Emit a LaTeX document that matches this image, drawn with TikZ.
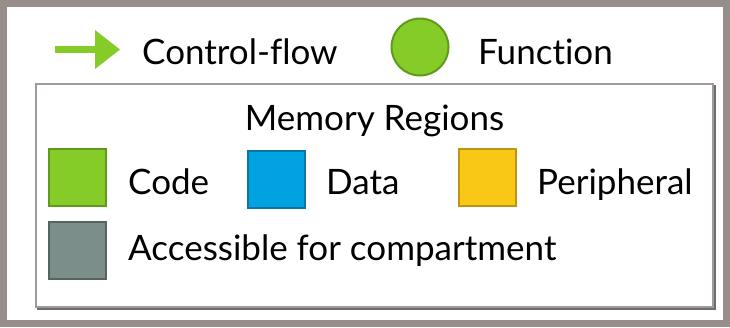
\documentclass[tikz,border=0pt]{standalone}
\usepackage{fontspec}
\setmainfont[Ligatures=NoCommon]{Lato}
\definecolor{framegray}{HTML}{978D8B}
\definecolor{boxgray}{HTML}{A09A99}
\definecolor{cgreen}{HTML}{86CC28}
\definecolor{cgreend}{HTML}{5F9A1C}
\definecolor{cblue}{HTML}{00A2E0}
\definecolor{cblued}{HTML}{0A76A8}
\definecolor{cyellow}{HTML}{F9C715}
\definecolor{cyellowd}{HTML}{BF9410}
\definecolor{cgray}{HTML}{7B8E8A}
\definecolor{cgrayd}{HTML}{566461}
\begin{document}
\begin{tikzpicture}[x=1pt,y=-1pt,
  lbl/.style={anchor=base west,inner sep=0pt,font=\fontsize{35}{38}\selectfont},
  swatch/.style={draw,line width=2pt,minimum width=57pt,minimum height=57pt,inner sep=0pt,anchor=north west}]
\useasboundingbox (0,0) rectangle (730,327);
\fill[white] (0,0) rectangle (730,327);
\draw[framegray,line width=7pt] (3.5,3.5) rectangle (726.5,323.5);
\draw[boxgray!70!black,line width=1.5pt] (38,86) rectangle (715,309);
\draw[boxgray,line width=2pt,fill=white] (36,84) rectangle (713,307);
% control-flow arrow
\coordinate (a0) at (55,49.5);
\coordinate (a1) at (96,49.5);
\draw[cgreen,line width=7pt] (a0) -- (a1);
\fill[cgreen] (95,30) -- (120,49.5) -- (95,69) -- cycle;
\node[lbl] (cf) at (142,64) {Control-flow};
\node[circle,draw=cgreend,fill=cgreen,line width=2pt,minimum size=57pt,inner sep=0pt] (fn) at (420,47) {};
\node[lbl] (fnl) at (478,64) {Function};
\node[anchor=base,inner sep=0pt,font=\fontsize{35}{38}\selectfont] (mr) at (374.5,130) {Memory Regions};
\node[swatch,draw=cgreend,fill=cgreen] (code) at (48,148) {};
\node[lbl] (codel) at (128,194) {Code};
\node[swatch,draw=cblued,fill=cblue] (data) at (247,150) {};
\node[lbl] (datal) at (326,194) {Data};
\node[swatch,draw=cyellowd,fill=cyellow] (per) at (458,148) {};
\node[lbl] (perl) at (537,194) {Peripheral};
\node[swatch,draw=cgrayd,fill=cgray] (acc) at (48,221) {};
\node[lbl] (accl) at (128,260) {Accessible for compartment};
\end{tikzpicture}
\end{document}
